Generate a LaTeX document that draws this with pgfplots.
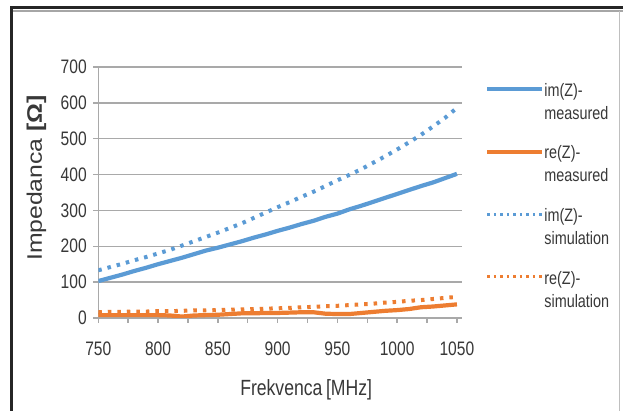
\documentclass[border=0pt]{standalone}
\usepackage{pgfplots}
\pgfplotsset{compat=1.18}
\usepackage{pgfplotstable}
\usepackage{fontspec}
\setmainfont{Liberation Sans}[FakeStretch=0.8]
\newfontfamily\ylabfont{Liberation Sans}[FakeStretch=1.18]
\definecolor{zblue}{HTML}{5B9BD5}
\definecolor{zorange}{HTML}{ED7D31}
\definecolor{gridgray}{HTML}{A9A9A9}
\definecolor{txt}{HTML}{383838}

\pgfplotstableread{
f v
750 103
760 112
770 121
780 131
790 140
800 150
810 159
820 168
830 178
840 188
850 196
860 205
870 214
880 224
890 233
900 243
910 252
920 262
930 271
940 282
950 291
960 303
970 313
980 324
990 335
1000 346
1010 357
1020 368
1030 378
1040 390
1050 402
}\immeas

\pgfplotstableread{
f v
750 8
760 8
770 8
780 8
790 8
800 8
810 7
820 4
830 7
840 8
850 9
860 11
870 13
880 13
890 14
900 14
910 15
920 16
930 16
940 12
950 11
960 11
970 14
980 17
990 20
1000 22
1010 25
1020 30
1030 32
1040 35
1050 38
}\remeas

\pgfplotstableread{
f v
750 133
760 142
770 151
780 161
790 170
800 180
810 190
820 202
830 214
840 226
850 238
860 251
870 264
880 279
890 294
900 309
910 323
920 338
930 352
940 368
950 384
960 399
970 415
980 433
990 451
1000 470
1010 490
1020 511
1030 534
1040 558
1050 586
}\imsim

\pgfplotstableread{
f v
750 16
760 17
770 17
780 18
790 18
800 19
810 19
820 20
830 21
840 21
850 22
860 23
870 24
880 25
890 26
900 27
910 28
920 30
930 31
940 33
950 34
960 36
970 38
980 40
990 43
1000 45
1010 48
1020 50
1030 53
1040 56
1050 59
}\resim

\begin{document}
\begin{tikzpicture}[x=1pt,y=1pt]
\useasboundingbox (0pt,0pt) rectangle (623pt,411pt);
\fill[white] (0pt,0pt) rectangle (623pt,411pt);
\draw[black!85, line width=2.6pt] (11.5pt,0pt) -- (11.5pt,403.6pt) -- (623pt,403.6pt);
\draw[black!35, line width=1.8pt] (12.8pt,400.3pt) -- (623pt,400.3pt);
\draw[black!25, line width=1pt] (619.5pt,0pt) -- (619.5pt,399.5pt);
\begin{axis}[
  at={(98.3pt,93pt)}, anchor=south west,
  scale only axis, width=363.4pt, height=251pt,
  xmin=750, xmax=1054, ymin=0, ymax=700,
  xtick={750,800,...,1050}, minor xtick={775,825,...,1025},
  ytick={0,100,...,700},
  axis x line*=bottom, axis y line*=left,
  axis line style={draw=gridgray, line width=1.4pt, -},
  tick style={draw=gridgray, line width=1.4pt},
  major tick length=5pt, minor tick length=5pt, tick align=outside,
  ymajorgrids, major grid style={draw=gridgray, line width=1.4pt},
  scaled ticks=false,
  /pgf/number format/.cd, 1000 sep={}, assume math mode=true, /pgfplots/.cd,
  tick label style={font=\fontsize{19.5}{22}\selectfont, text=txt},
  yticklabel style={xshift=-3pt},
  xticklabel style={yshift=-15pt},
  xlabel={Frekvenca\,[MHz]},
  ylabel={\ylabfont Impedanca \textbf{[Ω]}},
  label style={text=txt},
  xlabel style={font=\fontsize{22}{26}\selectfont, at={(axis description cs:0.572,-0.285)}, anchor=center},
  ylabel style={font=\fontsize{21}{25}\selectfont, at={(axis description cs:-0.170,0.558)}, anchor=center, rotate=0},
  legend style={draw=none, fill=none, inner sep=0pt,
    at={(axis description cs:1.064,0.948)}, anchor=north west,
    font=\fontsize{18}{23}\selectfont, text=txt,
    row sep=45pt,
    nodes={inner sep=0pt},
    /tikz/every even column/.append style={column sep=5pt}},
  legend cell align=left,
  legend image code/.code={\draw[#1] (0pt,0pt) -- (55pt,0pt);},
]
\addplot[zblue, line width=4.2pt] table[x=f,y=v] {\immeas};
\addlegendentry{\begin{tabular}[t]{@{}l@{}}im(Z)-\\measured\end{tabular}}
\addplot[zorange, line width=4.2pt] table[x=f,y=v] {\remeas};
\addlegendentry{\begin{tabular}[t]{@{}l@{}}re(Z)-\\measured\end{tabular}}
\addplot[zblue, line width=4pt, dash pattern=on 3.5pt off 6pt,
  legend image post style={line width=3pt, dash pattern=on 2.5pt off 4pt}] table[x=f,y=v] {\imsim};
\addlegendentry{\begin{tabular}[t]{@{}l@{}}im(Z)-\\simulation\end{tabular}}
\addplot[zorange, line width=4pt, dash pattern=on 3.5pt off 6pt,
  legend image post style={line width=3pt, dash pattern=on 2.5pt off 4pt}] table[x=f,y=v] {\resim};
\addlegendentry{\begin{tabular}[t]{@{}l@{}}re(Z)-\\simulation\end{tabular}}
\end{axis}
\end{tikzpicture}
\end{document}
